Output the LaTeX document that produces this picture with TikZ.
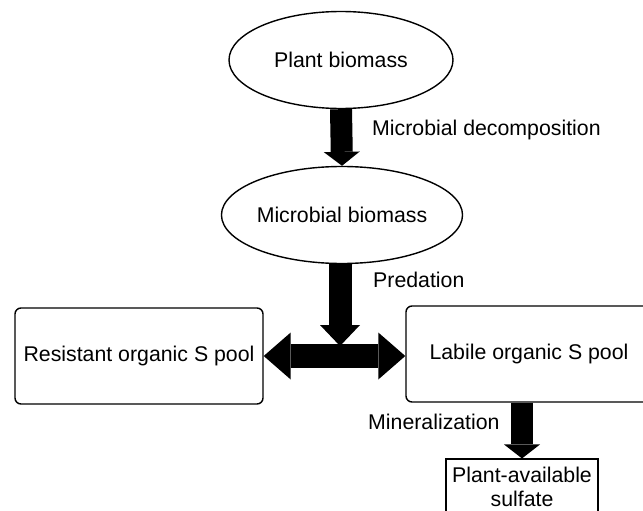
\documentclass[tikz,border=0pt]{standalone}
\usepackage{fontspec}
\setmainfont{Liberation Sans}
\usetikzlibrary{arrows.meta,shapes.geometric}
\begin{document}
\begin{tikzpicture}[x=1pt,y=-1pt,
  every node/.style={font=\fontsize{21.3}{24.5}\selectfont},
  bubble/.style={draw, ellipse, line width=1.4pt, minimum width=224pt, minimum height=97pt, inner sep=0pt},
  pool/.style={draw, rounded corners=6pt, line width=1.4pt, minimum width=248pt, minimum height=96pt, inner sep=0pt},
  sbox/.style={draw, line width=1.1pt, minimum width=152pt, minimum height=64pt, align=center, inner sep=0pt},
  lbl/.style={anchor=west, inner sep=0pt},
  fatarrow/.style={line width=22pt, -{Triangle[width=36pt,length=14pt,line width=0pt]}},
  dblarrow/.style={line width=24pt, {Triangle[width=47pt,length=27pt,line width=0pt]}-{Triangle[width=47pt,length=27pt,line width=0pt]}}
]
\clip (0,0) rectangle (643,511);
\node[bubble] (plant) at (341,60) {Plant biomass};
\node[bubble] (micro) at (342,215) {Microbial biomass};
\node[pool] (res) at (139,356) {Resistant organic S pool};
\node[pool, minimum width=246pt] (lab) at (529,354) {Labile organic S pool};
\node[sbox] (sul) at (522,491) {};
\node[align=center, inner sep=0pt] (sultext) at (522,487) {Plant-available\\sulfate};
\coordinate (hub) at (340,346);

\draw[fatarrow] (plant.south) -- (micro.north);
\draw[dblarrow] (res.east) -- (res.east -| lab.west);
\draw[fatarrow, line width=23pt, -{Triangle[width=40pt,length=21pt,line width=0pt]}] (micro.south -| hub) -- (hub);
\draw[fatarrow] (sul.north |- lab.south) -- (sul.north);

\node[lbl] (l1) at (372,130) {Microbial decomposition};
\node[lbl] (l2) at (373,280) {Predation};
\node[lbl] (l3) at (368,422) {Mineralization};
\end{tikzpicture}
\end{document}
